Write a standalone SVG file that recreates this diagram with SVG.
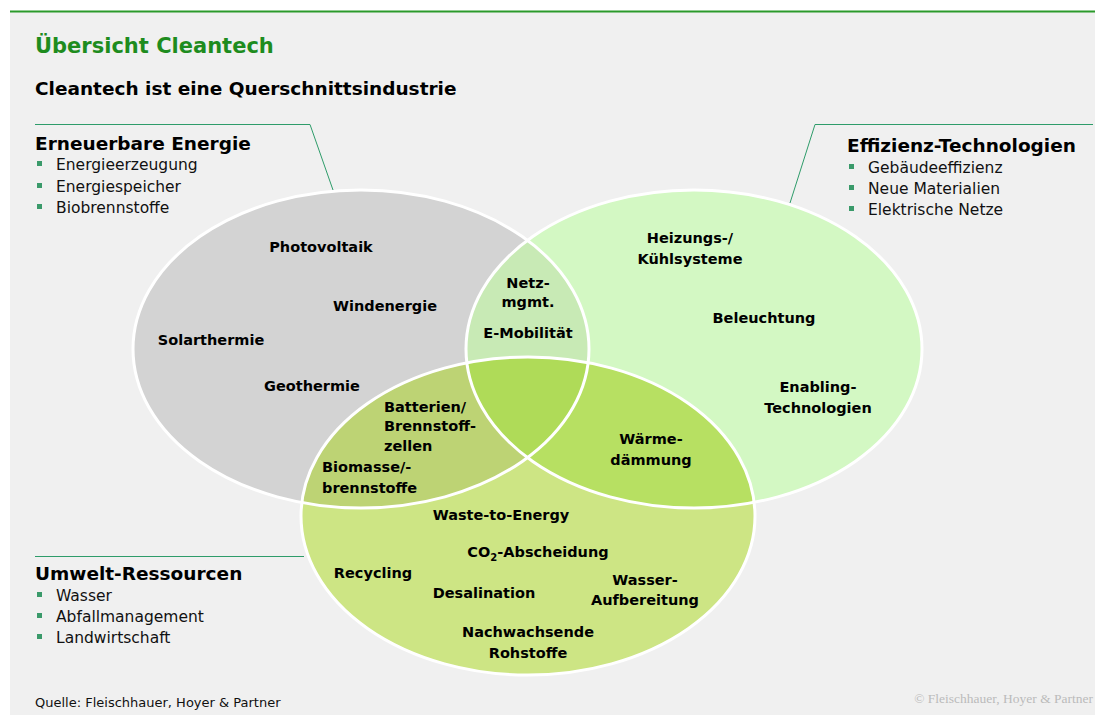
<svg xmlns="http://www.w3.org/2000/svg" width="1095" height="715" viewBox="0 0 1095 715">
<style>
  .title{font-family:"DejaVu Sans",sans-serif;font-weight:bold;font-size:21px;fill:#1e8c1e}
  .sub{font-family:"DejaVu Sans",sans-serif;font-weight:bold;font-size:18.5px;fill:#000}
  .item{font-family:"DejaVu Sans",sans-serif;font-size:15.5px;fill:#111}
  .lbl{font-family:"DejaVu Sans",sans-serif;font-weight:bold;font-size:14.5px;fill:#000;text-anchor:middle}
  .lbl-l{font-family:"DejaVu Sans",sans-serif;font-weight:bold;font-size:14.5px;fill:#000}
  .bul{fill:#3a9a6a}
  .conn{stroke:#2e9c6a;stroke-width:1;fill:none}
  .edge{fill:none;stroke:#ffffff;stroke-width:3}
  .foot{font-family:"DejaVu Sans",sans-serif;font-size:13px;fill:#111}
  .copy{font-family:"Liberation Serif",serif;font-size:13.5px;fill:#bbbbbb;text-anchor:end}
</style>
<defs>
  <clipPath id="clipA"><ellipse cx="361" cy="349" rx="228" ry="159"/></clipPath>
  <clipPath id="clipB"><ellipse cx="694" cy="349" rx="228" ry="159"/></clipPath>
</defs>
<rect x="0" y="0" width="1095" height="715" fill="#ffffff"/>
<rect x="10" y="12" width="1085" height="703" fill="#f0f0f0"/>
<line x1="10" y1="11.5" x2="1095" y2="11.5" stroke="#2a9a2a" stroke-width="2"/>

<text class="title" x="35" y="53">Übersicht Cleantech</text>
<text class="sub" x="35" y="95">Cleantech ist eine Querschnittsindustrie</text>

<g id="venn">
  <ellipse cx="361" cy="349" rx="228" ry="159" fill="#d3d3d3"/>
  <ellipse cx="694" cy="349" rx="228" ry="159" fill="#d3f8c3"/>
  <ellipse cx="528" cy="516" rx="227" ry="159" fill="#cde584"/>
  <ellipse cx="694" cy="349" rx="228" ry="159" fill="#c8eab5" clip-path="url(#clipA)"/>
  <ellipse cx="528" cy="516" rx="227" ry="159" fill="#bdd374" clip-path="url(#clipA)"/>
  <ellipse cx="528" cy="516" rx="227" ry="159" fill="#b7e062" clip-path="url(#clipB)"/>
  <g clip-path="url(#clipB)">
    <ellipse cx="528" cy="516" rx="227" ry="159" fill="#afdb58" clip-path="url(#clipA)"/>
  </g>
  <ellipse class="edge" cx="361" cy="349" rx="228" ry="159"/>
  <ellipse class="edge" cx="694" cy="349" rx="228" ry="159"/>
  <ellipse class="edge" cx="528" cy="516" rx="227" ry="159"/>
</g>

<g id="connectors">
  <polyline class="conn" points="35,124.5 310,124.5 333,190"/>
  <polyline class="conn" points="790,203 815,124.5 1093,124.5"/>
  <polyline class="conn" points="35,556.5 304,556.5"/>
</g>

<g id="erneuerbare">
  <text class="sub" x="35" y="150">Erneuerbare Energie</text>
  <rect class="bul" x="37" y="161" width="5" height="5"/>
  <text class="item" x="56" y="170">Energieerzeugung</text>
  <rect class="bul" x="37" y="183" width="5" height="5"/>
  <text class="item" x="56" y="192">Energiespeicher</text>
  <rect class="bul" x="37" y="204" width="5" height="5"/>
  <text class="item" x="56" y="213">Biobrennstoffe</text>
  <text class="lbl" x="321" y="252">Photovoltaik</text>
  <text class="lbl" x="385" y="311">Windenergie</text>
  <text class="lbl" x="211" y="345">Solarthermie</text>
  <text class="lbl" x="312" y="391">Geothermie</text>
</g>

<g id="effizienz">
  <text class="sub" x="847" y="152">Effizienz-Technologien</text>
  <rect class="bul" x="849" y="164" width="5" height="5"/>
  <text class="item" x="868" y="173">Gebäudeeffizienz</text>
  <rect class="bul" x="849" y="185" width="5" height="5"/>
  <text class="item" x="868" y="194">Neue Materialien</text>
  <rect class="bul" x="849" y="206" width="5" height="5"/>
  <text class="item" x="868" y="215">Elektrische Netze</text>
  <text class="lbl" x="690" y="243">Heizungs-/</text>
  <text class="lbl" x="690" y="264">Kühlsysteme</text>
  <text class="lbl" x="764" y="323">Beleuchtung</text>
  <text class="lbl" x="818" y="392">Enabling-</text>
  <text class="lbl" x="818" y="413">Technologien</text>
</g>

<g id="umwelt">
  <text class="sub" x="35" y="580">Umwelt-Ressourcen</text>
  <rect class="bul" x="37" y="592" width="5" height="5"/>
  <text class="item" x="56" y="601">Wasser</text>
  <rect class="bul" x="37" y="613" width="5" height="5"/>
  <text class="item" x="56" y="622">Abfallmanagement</text>
  <rect class="bul" x="37" y="634" width="5" height="5"/>
  <text class="item" x="56" y="643">Landwirtschaft</text>
  <text class="lbl" x="501" y="520">Waste-to-Energy</text>
  <text class="lbl" x="538" y="557">CO<tspan font-size="10" dy="4">2</tspan><tspan dy="-4">-Abscheidung</tspan></text>
  <text class="lbl" x="373" y="578">Recycling</text>
  <text class="lbl" x="484" y="598">Desalination</text>
  <text class="lbl" x="645" y="585">Wasser-</text>
  <text class="lbl" x="645" y="605">Aufbereitung</text>
  <text class="lbl" x="528" y="637">Nachwachsende</text>
  <text class="lbl" x="528" y="658">Rohstoffe</text>
</g>

<g id="schnittmengen">
  <text class="lbl" x="528" y="288">Netz-</text>
  <text class="lbl" x="528" y="307">mgmt.</text>
  <text class="lbl" x="528" y="338">E-Mobilität</text>
  <text class="lbl-l" x="384" y="412">Batterien/</text>
  <text class="lbl-l" x="384" y="431">Brennstoff-</text>
  <text class="lbl-l" x="384" y="451">zellen</text>
  <text class="lbl-l" x="322" y="472">Biomasse/-</text>
  <text class="lbl-l" x="322" y="493">brennstoffe</text>
  <text class="lbl" x="651" y="444">Wärme-</text>
  <text class="lbl" x="651" y="465">dämmung</text>
</g>

<text class="foot" x="35" y="707">Quelle: Fleischhauer, Hoyer &amp; Partner</text>
<text class="copy" x="1093" y="703">© Fleischhauer, Hoyer &amp; Partner</text>
</svg>
